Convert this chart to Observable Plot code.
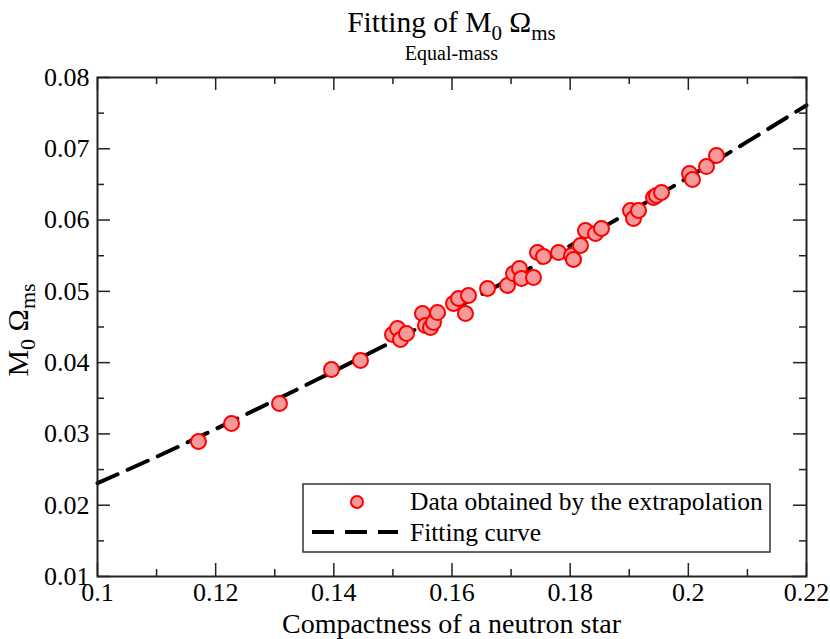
<!DOCTYPE html>
<html>
<head>
<meta charset="utf-8">
<script src="https://cdn.jsdelivr.net/npm/d3@7"></script>
<script src="https://cdn.jsdelivr.net/npm/@observablehq/plot@0.6"></script>
<style>
  html, body { margin: 0; padding: 0; background: white; }
  #chart svg { display: block; }
  #chart svg text { font-family: "Liberation Serif", "Times New Roman", serif !important; }
</style>
</head>
<body>
<div id="chart"></div>
<script>
// ---- data ----
const compactness = [0.11709,0.12268,0.13080,0.13960,0.14451,0.14993,0.15078,0.15128,0.15230,0.15500,
  0.15551,0.15636,0.15687,0.15755,0.16025,0.16110,0.16228,0.16279,0.16601,0.16939,
  0.17041,0.17142,0.17176,0.17379,0.17447,0.17549,0.17803,0.18023,0.18056,0.18175,
  0.18259,0.18429,0.18530,0.19021,0.19072,0.19157,0.19410,0.19461,0.19546,0.20020,
  0.20070,0.20307,0.20476];
const omega = [0.02894,0.03146,0.03427,0.03904,0.04030,0.04395,0.04479,0.04325,0.04409,0.04689,
  0.04521,0.04493,0.04563,0.04703,0.04830,0.04900,0.04689,0.04942,0.05040,0.05082,
  0.05250,0.05321,0.05180,0.05194,0.05545,0.05489,0.05545,0.05503,0.05447,0.05643,
  0.05854,0.05812,0.05882,0.06134,0.06022,0.06134,0.06317,0.06345,0.06387,0.06653,
  0.06569,0.06751,0.06906];
const fitX = [0.10,0.11,0.12,0.13,0.14,0.15,0.16,0.17,0.18,0.19,0.20,0.21,0.22];
const fitY = [0.0231,0.0268,0.0307,0.0347,0.0388,0.0430,0.0474,0.0518,0.0564,0.0611,0.0660,0.0710,0.0761];
const xMajor = [0.10,0.12,0.14,0.16,0.18,0.20,0.22];
const xMinor = [0.11,0.13,0.15,0.17,0.19,0.21];
const yMajor = [0.01,0.02,0.03,0.04,0.05,0.06,0.07,0.08];
const yMinor = [0.015,0.025,0.035,0.045,0.055,0.065,0.075];
const titleText = "Fitting of M";
const subtitleText = "Equal-mass";
const xLabel = "Compactness of a neutron star";
const legendLabels = ["Data obtained by the extrapolation", "Fitting curve"];

const points = compactness.map((c, i) => ({x: c, y: omega[i]}));
const fit = fitX.map((c, i) => ({x: c, y: fitY[i]}));

const W = 830, H = 639, mT = 77, mB = 63, mL = 97, mR = 24;
const pw = W - mL - mR, ph = H - mT - mB;
const FONT = "Liberation Serif, Times New Roman, serif";
const fmt = d => String(+d.toFixed(3));
const dotFill = "#f59a9a";
const dash = "22,11";

const chart = Plot.plot({
  width: W, height: H,
  marginTop: mT, marginBottom: mB, marginLeft: mL, marginRight: mR,
  x: {domain: [0.10, 0.22]},
  y: {domain: [0.01, 0.08]},
  style: {fontFamily: FONT, background: "white", color: "black"},
  marks: [
    Plot.line(fit, {x: "x", y: "y", stroke: "black", strokeWidth: 4, strokeDasharray: dash, curve: "natural"}),
    Plot.dot(points, {x: "x", y: "y", r: 7.5, fill: dotFill, stroke: "#ff0000", strokeWidth: 2}),
    // inside ticks (bottom / top)
    Plot.tickX(xMajor, {x: d => d, insetTop: ph - 13, stroke: "#222", strokeWidth: 1.5}),
    Plot.tickX(xMajor, {x: d => d, insetBottom: ph - 13, stroke: "#222", strokeWidth: 1.5}),
    Plot.tickX(xMinor, {x: d => d, insetTop: ph - 7, stroke: "#222", strokeWidth: 1.5}),
    Plot.tickX(xMinor, {x: d => d, insetBottom: ph - 7, stroke: "#222", strokeWidth: 1.5}),
    // inside ticks (left / right)
    Plot.tickY(yMajor, {y: d => d, insetRight: pw - 13, stroke: "#222", strokeWidth: 1.5}),
    Plot.tickY(yMajor, {y: d => d, insetLeft: pw - 13, stroke: "#222", strokeWidth: 1.5}),
    Plot.tickY(yMinor, {y: d => d, insetRight: pw - 7, stroke: "#222", strokeWidth: 1.5}),
    Plot.tickY(yMinor, {y: d => d, insetLeft: pw - 7, stroke: "#222", strokeWidth: 1.5}),
    Plot.axisX(xMajor, {tickSize: 0, tickPadding: 6, fontSize: 26, fontFamily: FONT, tickFormat: fmt, label: null}),
    Plot.axisY(yMajor, {tickSize: 0, tickPadding: 8, fontSize: 26, fontFamily: FONT, tickFormat: fmt, label: null}),
    Plot.frame({stroke: "#222", strokeWidth: 2})
  ]
});

document.getElementById("chart").appendChild(chart);

const svg = d3.select(chart);
const cx = mL + pw / 2;

function txt(sel, x, y, size, anchor) {
  return sel.append("text").attr("x", x).attr("y", y).attr("text-anchor", anchor)
    .attr("font-family", FONT).attr("font-size", size).attr("fill", "black");
}

// Title with subscripts
const t = txt(svg, cx, 32, 29.5, "middle");
t.append("tspan").text(titleText);
t.append("tspan").attr("dy", 8).attr("font-size", 21).text("0");
t.append("tspan").attr("dy", -8).text(" \u03A9");
t.append("tspan").attr("dy", 8).attr("font-size", 21).text("ms");

txt(svg, cx, 60, 20, "middle").text(subtitleText);

// X label
txt(svg, cx, 633, 28, "middle").text(xLabel);

// Y label with subscripts
const yl = svg.append("text").attr("transform", `translate(28, 330) rotate(-90)`)
  .attr("text-anchor", "middle").attr("font-family", FONT).attr("font-size", 30).attr("fill", "black");
yl.append("tspan").text("M");
yl.append("tspan").attr("dy", 7).attr("font-size", 22).text("0");
yl.append("tspan").attr("dy", -7).text(" \u03A9");
yl.append("tspan").attr("dy", 7).attr("font-size", 22).text("ms");

// Legend
const lg = svg.append("g");
lg.append("rect").attr("x", 303).attr("y", 484).attr("width", 467).attr("height", 68)
  .attr("fill", "white").attr("stroke", "#333").attr("stroke-width", 1.5);
lg.append("circle").attr("cx", 357).attr("cy", 502).attr("r", 6)
  .attr("fill", dotFill).attr("stroke", "#ff0000").attr("stroke-width", 2);
lg.append("line").attr("x1", 312).attr("x2", 398).attr("y1", 532).attr("y2", 532)
  .attr("stroke", "black").attr("stroke-width", 4).attr("stroke-dasharray", dash);
txt(lg, 410, 510, 25.5, "start").text(legendLabels[0]);
txt(lg, 410, 541, 25.5, "start").text(legendLabels[1]);
</script>
</body>
</html>
